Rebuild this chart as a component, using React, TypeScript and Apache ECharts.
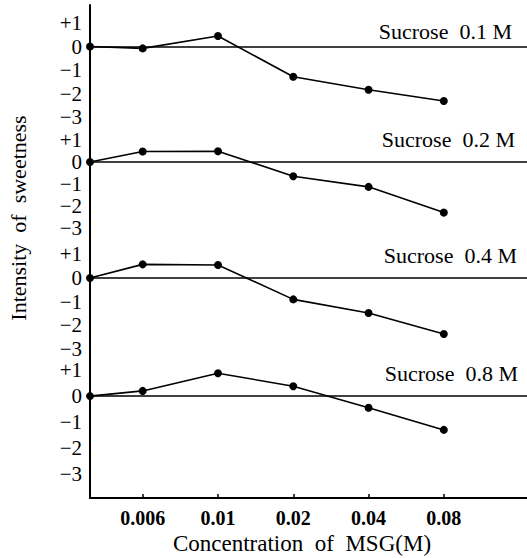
import React, { useEffect, useRef } from 'react';
import * as echarts from 'echarts';

// ---- data ----
const msgLabels = ['0.006', '0.01', '0.02', '0.04', '0.08'];
// axis slot of each measurement: the no-MSG control sits on the axis origin
const xSlots = [0.3, 1, 2, 3, 4, 5];
const sucroseLabels = ['Sucrose  0.1 M', 'Sucrose  0.2 M', 'Sucrose  0.4 M', 'Sucrose  0.8 M'];
const sweet01 = [0, -0.08, 0.45, -1.29, -1.84, -2.32];
const sweet02 = [0, 0.48, 0.49, -0.65, -1.13, -2.3];
const sweet04 = [0, 0.58, 0.55, -0.91, -1.49, -2.38];
const sweet08 = [0, 0.2, 0.88, 0.38, -0.45, -1.3];
const yTickValues = [-3, -2, -1, 0, 1];

const allSeries = [sweet01, sweet02, sweet04, sweet08];

// ---- layout ----
const panels = [
  { top: 5, height: 124, min: -3.51, max: 1.766 },
  { top: 129, height: 113.5, min: -3.66, max: 1.5 },
  { top: 242.5, height: 118, min: -3.51, max: 1.51 },
  { top: 360.5, height: 137.5, min: -3.92, max: 1.37 },
];
const labelPos = [
  { x: 512, y: 31 },
  { x: 515, y: 139.5 },
  { x: 517, y: 255 },
  { x: 518, y: 373.5 },
];
const SERIF = 'Liberation Serif';
const X_MIN = xSlots[0];
const X_MAX = 6.105;

export default function App() {
  const ref = useRef<HTMLDivElement>(null);
  useEffect(() => {
    document.body.style.margin = '0';
    const chart = echarts.init(ref.current!, null, { renderer: 'svg' });
    const last = panels.length - 1;
    const option: any = {
      animation: false,
      backgroundColor: '#fff',
      grid: panels.map((p) => ({ left: 90, right: 0, top: p.top, height: p.height })),
      xAxis: panels.map((p, i) => ({
        type: 'value',
        gridIndex: i,
        min: X_MIN,
        max: X_MAX,
        show: i === last,
        splitLine: { show: false },
        axisLine: { show: true, onZero: false, lineStyle: { color: '#000', width: 2 } },
        axisTick: {
          show: true,
          inside: true,
          length: 4,
          customValues: xSlots.slice(1),
          lineStyle: { color: '#000', width: 1.5 },
        },
        axisLabel: {
          customValues: xSlots.slice(1),
          formatter: (v: number) => {
            const k = xSlots.indexOf(v);
            return k > 0 ? msgLabels[k - 1] : '';
          },
          color: '#000',
          fontFamily: SERIF,
          fontWeight: 'bold',
          fontSize: 20,
          margin: 10,
        },
      })),
      yAxis: panels.map((p, i) => ({
        type: 'value',
        gridIndex: i,
        min: p.min,
        max: p.max,
        splitLine: { show: false },
        axisLine: { show: true, lineStyle: { color: '#000', width: 2 } },
        axisTick: { show: false },
        axisLabel: {
          customValues: yTickValues,
          formatter: (v: number) => (v > 0 ? '+' + v : v < 0 ? '\u2212' + Math.abs(v) : '0'),
          color: '#000',
          fontFamily: SERIF,
          fontSize: 21,
          lineHeight: 17,
          margin: 8,
        },
      })),
      series: allSeries.map((vals, i) => ({
        type: 'line',
        name: sucroseLabels[i],
        xAxisIndex: i,
        yAxisIndex: i,
        data: vals.map((v, j) => [xSlots[j], v]),
        symbol: 'circle',
        symbolSize: 8,
        clip: false,
        silent: true,
        itemStyle: { color: '#000' },
        lineStyle: { color: '#000', width: 1.6 },
        markLine: {
          silent: true,
          symbol: 'none',
          label: { show: false },
          lineStyle: { color: '#000', width: 1.6, type: 'solid' },
          data: [{ yAxis: 0 }],
        },
      })),
      graphic: [
        ...sucroseLabels.map((t, i) => ({
          type: 'text',
          x: labelPos[i].x,
          y: labelPos[i].y,
          style: {
            text: t,
            fill: '#000',
            fontFamily: SERIF,
            fontSize: 22,
            align: 'right',
            verticalAlign: 'middle',
          },
        })),
        {
          type: 'text',
          x: 18,
          y: 218,
          rotation: Math.PI / 2,
          style: {
            text: 'Intensity  of  sweetness',
            fill: '#000',
            fontFamily: SERIF,
            fontSize: 22,
            align: 'center',
            verticalAlign: 'middle',
          },
        },
        {
          type: 'text',
          x: 302,
          y: 543,
          style: {
            text: 'Concentration  of  MSG(M)',
            fill: '#000',
            fontFamily: SERIF,
            fontSize: 23,
            align: 'center',
            verticalAlign: 'middle',
          },
        },
      ],
    };
    chart.setOption(option);
    return () => chart.dispose();
  }, []);
  return <div ref={ref} style={{ width: 527, height: 558 }} />;
}
